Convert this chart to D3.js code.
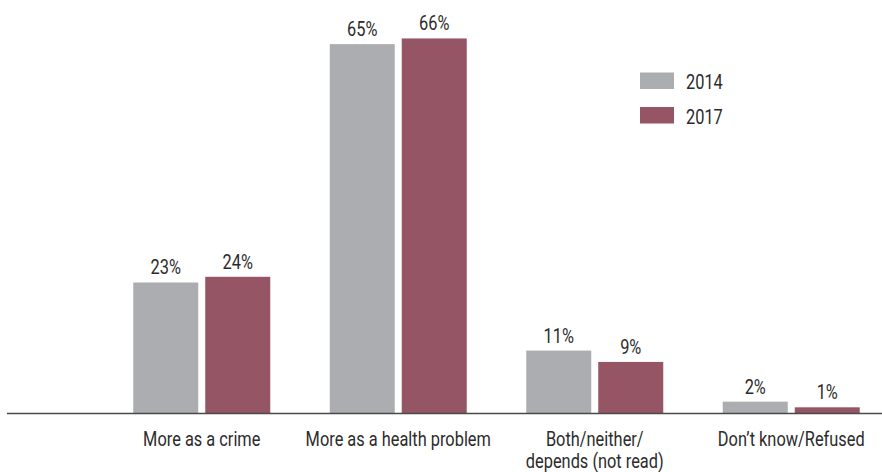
<!DOCTYPE html>
<html>
<head>
<meta charset="utf-8">
<script src="https://cdn.jsdelivr.net/npm/d3@7"></script>
<style>
  html, body { margin: 0; padding: 0; background: #fff; }
  svg text { font-family: Roboto, "Liberation Sans", sans-serif; fill: #2b2b2b; font-size: 19.5px; }
</style>
</head>
<body>
<svg id="chart" width="882" height="472"></svg>
<script>
// Categories (multi-line labels split on "\n")
const categories = [
  "More as a crime",
  "More as a health problem",
  "Both/neither/\ndepends (not read)",
  "Don\u2019t know/Refused"
];
const years = ["2014", "2017"];
const values2014 = [23, 65, 11, 2];
const values2017 = [24, 66, 9, 1];
const colors = ["#acadb0", "#955565"];

// Horizontal squeeze to give a condensed face
const SX = 0.84;

const svg = d3.select("#chart");
const W = 882;
const baseY = 413;

const x0 = d3.scaleBand().domain(categories).range([103.5, 889.5]).padding(0);
const x1 = d3.scaleBand().domain(years).range([0, 137]).paddingInner(0.0972);
const y = d3.scaleLinear().domain([0, 100]).range([baseY, baseY - 567.5]);

const series = [values2014, values2017];
const rows = categories.map((c, i) => ({
  cat: c,
  vals: years.map((yr, j) => ({ year: yr, value: series[j][i], color: colors[j] }))
}));

const groups = svg.append("g").selectAll("g").data(rows).join("g")
  .attr("transform", d => `translate(${x0(d.cat) + x0.bandwidth() / 2 - 68.5},0)`);

groups.selectAll("rect").data(d => d.vals).join("rect")
  .attr("x", d => x1(d.year))
  .attr("y", d => y(d.value))
  .attr("width", x1.bandwidth())
  .attr("height", d => baseY - y(d.value))
  .attr("fill", d => d.color);

groups.selectAll("text.val").data(d => d.vals).join("text")
  .attr("class", "val")
  .attr("transform", d => `translate(${x1(d.year) + x1.bandwidth() / 2},${y(d.value) - 8}) scale(${SX},1)`)
  .attr("text-anchor", "middle")
  .text(d => d.value + "%");

// Baseline
svg.append("line")
  .attr("x1", 7).attr("x2", W)
  .attr("y1", baseY + 0.5).attr("y2", baseY + 0.5)
  .attr("stroke", "#4a4a4a").attr("stroke-width", 1.5);

// Category labels
const xAxis = d3.axisBottom(x0).tickSize(0).tickPadding(0);
const ax = svg.append("g").attr("transform", `translate(0,${baseY})`).call(xAxis);
ax.select(".domain").remove();
ax.attr("font-family", null).attr("font-size", null);
ax.selectAll(".tick text").each(function(d) {
  const t = d3.select(this);
  const lines = d.split("\n");
  t.text(null).attr("y", 0).attr("dy", null)
    .attr("transform", `scale(${SX},1)`)
    .attr("fill", "#2b2b2b");
  lines.forEach((ln, k) => {
    t.append("tspan").attr("x", 0).attr("y", 33 + k * 22).text(ln);
  });
});

// Legend
const legend = svg.append("g").attr("transform", "translate(640,72.5)");
years.forEach((yr, j) => {
  const g = legend.append("g").attr("transform", `translate(0,${j * 34.5})`);
  g.append("rect").attr("width", 34).attr("height", 16.5).attr("fill", colors[j]);
  g.append("text").attr("transform", `translate(46,16.5) scale(${SX},1)`).text(yr);
});
</script>
</body>
</html>
